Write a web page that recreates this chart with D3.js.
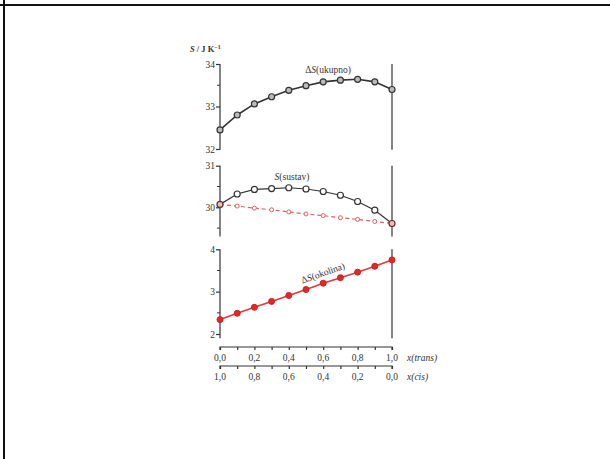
<!DOCTYPE html>
<html><head><meta charset="utf-8">
<script src="https://cdn.jsdelivr.net/npm/d3@7"></script>
<style>
body{margin:0;background:#fff;}
svg{display:block;font-family:"Liberation Serif","DejaVu Serif",serif;}
</style></head>
<body>
<svg id="c" width="610" height="459"></svg>
<script>
const xTrans = [0,0.1,0.2,0.3,0.4,0.5,0.6,0.7,0.8,0.9,1.0];
const dSukupno = [32.45,32.80,33.06,33.23,33.38,33.49,33.58,33.62,33.64,33.58,33.40];
const sSustav = [30.07,30.32,30.43,30.45,30.47,30.44,30.38,30.29,30.14,29.93,29.61];
const sLinear = [30.07,30.03,29.98,29.94,29.89,29.84,29.80,29.75,29.71,29.66,29.61];
const dSokolina = [2.34,2.49,2.63,2.77,2.91,3.05,3.20,3.33,3.46,3.60,3.75];
const topTicks = [32,33,34], midTicks = [30,31], botTicks = [2,3,4];
const xTickLabels = ["0,0","0,2","0,4","0,6","0,8","1,0"];
const xCisLabels = ["1,0","0,8","0,6","0,4","0,2","0,0"];

const serif = "Liberation Serif, DejaVu Serif, serif";
const svg = d3.select("#c");
// scan frame
svg.append("line").attr("x1",0).attr("x2",610).attr("y1",5).attr("y2",5).attr("stroke","#111").attr("stroke-width",2);
svg.append("line").attr("x1",4).attr("x2",4).attr("y1",0).attr("y2",459).attr("stroke","#111").attr("stroke-width",2);

const ink = "#333";
const x = d3.scaleLinear().domain([0,1]).range([220,392]);
const xc = d3.scaleLinear().domain([1,0]).range([220,392]);

const panels = [
  {y: d3.scaleLinear().domain([32,34]).range([149,64]), lo:31.98, hi:34, ticks:topTicks, minor:[32.5,33.5]},
  {y: d3.scaleLinear().domain([30,31]).range([207.3,165.7]), lo:29.3, hi:31, ticks:midTicks, minor:[29.5,30.5]},
  {y: d3.scaleLinear().domain([2,4]).range([334,249.3]), lo:1.9, hi:4, ticks:botTicks, minor:[2.5,3.5]}
];

panels.forEach(p=>{
  const g = svg.append("g").attr("transform","translate(220,0)");
  g.call(d3.axisLeft(p.y).tickValues(p.ticks).tickSize(4).tickSizeOuter(0).tickFormat(d3.format("d")));
  g.attr("font-family",serif).attr("font-size",9.5);
  g.select(".domain").remove();
  g.append("line").attr("x1",0).attr("x2",0).attr("y1",p.y(p.hi)).attr("y2",p.y(p.lo)).attr("stroke",ink).attr("stroke-width",1.2);
  g.selectAll(".minor").data(p.minor).join("line").attr("x1",-3).attr("x2",0)
    .attr("y1",d=>p.y(d)).attr("y2",d=>p.y(d)).attr("stroke",ink);
  g.selectAll(".tick line").attr("stroke",ink).attr("stroke-width",1.2);
  g.selectAll(".tick text").attr("fill",ink).attr("x",-5);
  svg.append("line").attr("x1",x(1)).attr("x2",x(1)).attr("y1",p.y(p.hi)).attr("y2",p.y(p.lo)).attr("stroke",ink).attr("stroke-width",1.2);
});

const [P1,P2,P3] = panels;
const line = (ys)=>d3.line().x((d,i)=>x(xTrans[i])).y(d=>ys(d));

// top panel
svg.append("path").datum(dSukupno).attr("d",line(P1.y)).attr("fill","none").attr("stroke",ink).attr("stroke-width",1.6);
svg.selectAll(".p1").data(dSukupno).join("circle").attr("cx",(d,i)=>x(xTrans[i])).attr("cy",d=>P1.y(d))
  .attr("r",3).attr("fill","#bbb").attr("stroke",ink).attr("stroke-width",1.2);
svg.append("text").attr("x",328).attr("y",73).attr("text-anchor","middle").attr("font-size",9.5).attr("fill",ink)
  .html('Δ<tspan font-style="italic">S</tspan>(ukupno)');

// middle panel
svg.append("path").datum(sLinear).attr("d",line(P2.y)).attr("fill","none").attr("stroke","#e06060").attr("stroke-width",1.2).attr("stroke-dasharray","4,3");
svg.selectAll(".p2r").data(sLinear).join("circle").attr("cx",(d,i)=>x(xTrans[i])).attr("cy",d=>P2.y(d))
  .attr("r",2).attr("fill","#fff").attr("stroke","#e06060").attr("stroke-width",1);
svg.append("path").datum(sSustav).attr("d",line(P2.y)).attr("fill","none").attr("stroke",ink).attr("stroke-width",1.2);
svg.selectAll(".p2").data(sSustav).join("circle").attr("cx",(d,i)=>x(xTrans[i])).attr("cy",d=>P2.y(d))
  .attr("r",3).attr("fill",(d,i)=>i===0||i===10?"#e8c0c0":"#fff").attr("stroke",(d,i)=>i===0||i===10?"#6a2a2a":ink).attr("stroke-width",1.2);
svg.append("text").attr("x",292).attr("y",180).attr("text-anchor","middle").attr("font-size",9.5).attr("fill",ink)
  .html('<tspan font-style="italic">S</tspan>(sustav)');

// bottom panel
svg.append("path").datum(dSokolina).attr("d",line(P3.y)).attr("fill","none").attr("stroke","#e03a3a").attr("stroke-width",1.6);
svg.selectAll(".p3").data(dSokolina).join("circle").attr("cx",(d,i)=>x(xTrans[i])).attr("cy",d=>P3.y(d))
  .attr("r",3).attr("fill","#e02828").attr("stroke","#d02020");
const ang = Math.atan2(P3.y(dSokolina[10])-P3.y(dSokolina[0]), x(1)-x(0))*180/Math.PI;
svg.append("text").attr("transform",`translate(324,276) rotate(${ang})`).attr("text-anchor","middle").attr("font-size",9.5).attr("fill",ink)
  .html('Δ<tspan font-style="italic">S</tspan>(okolina)');

// y label
svg.append("text").attr("x",190).attr("y",52).attr("font-size",8.5).attr("font-weight","bold").attr("fill",ink)
  .html('<tspan font-style="italic">S</tspan> / J K<tspan dy="-3" font-size="6">−1</tspan>');

// x axes
function xAxis(scale, yPos, labels, name){
  const g = svg.append("g").attr("transform",`translate(0,${yPos})`);
  g.call(d3.axisBottom(scale).tickValues(xTrans).tickSize(3).tickSizeOuter(0).tickFormat(""));
  g.attr("font-family",serif).attr("font-size",9.5);
  g.select(".domain").attr("stroke",ink).attr("stroke-width",1.2).attr("d",`M${x(0)},3V0H${x(1)}V3`);
  g.selectAll(".tick line").attr("stroke",ink).attr("stroke-width",1.2);
  const vals = [0,0.2,0.4,0.6,0.8,1.0];
  g.selectAll(".lbl").data(vals).join("text").attr("x",d=>x(d)).attr("y",14).attr("text-anchor","middle")
    .attr("fill",ink).text((d,i)=>labels[i]);
  g.append("text").attr("x",407).attr("y",14).attr("text-anchor","start").attr("font-style","italic").attr("fill",ink).text(name);
}
xAxis(x, 347, xTickLabels, "x(trans)");
xAxis(xc, 366, xCisLabels, "x(cis)");
</script>
</body></html>
